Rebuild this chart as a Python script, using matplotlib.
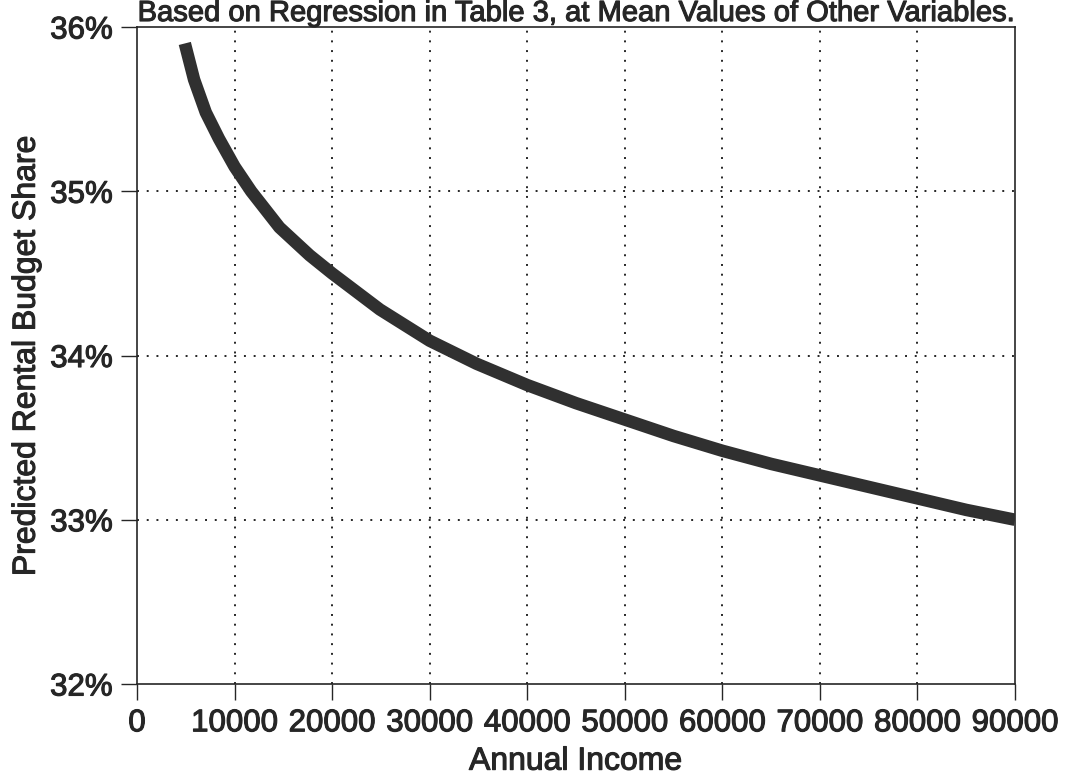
import numpy as np
import matplotlib.pyplot as plt
import matplotlib.patheffects as pe

plt.rcParams['font.family'] = ['Liberation Sans', 'DejaVu Sans']

# values (annual income, predicted share in %)
income = np.array([4900, 5850, 7050, 8400, 10000, 11700, 14600, 17700,
                   20000, 24900, 30000, 34800, 40000, 45000, 50000, 55000,
                   60000, 65000, 70000, 75000, 80000, 85000, 90000])
share = np.array([35.90, 35.68, 35.48, 35.32, 35.15, 35.00, 34.78, 34.61,
                  34.50, 34.28, 34.09, 33.95, 33.82, 33.71, 33.61, 33.51,
                  33.42, 33.34, 33.27, 33.20, 33.13, 33.06, 33.00])

x_ticks = np.arange(0, 90001, 10000)
y_ticks = [32, 33, 34, 35, 36]
y_tick_labels = ['32%', '33%', '34%', '35%', '36%']

title = 'Based on Regression in Table 3, at Mean Values of Other Variables.'
x_label = 'Annual Income'
y_label = 'Predicted Rental Budget Share'

ink = '#262626'
heavy = [pe.withStroke(linewidth=0.8, foreground=ink)]

fig = plt.figure(figsize=(10.67, 7.81), dpi=100)
ax = fig.add_axes([0.1284, 0.1242, 0.8229, 0.8412])

ax.plot(income, share, color='#303030', linewidth=9.0,
        solid_capstyle='butt', solid_joinstyle='round', zorder=3)

ax.set_xlim(0, 90000)
ax.set_ylim(32, 36)
ax.set_xticks(x_ticks)
ax.set_xticklabels([str(v) for v in x_ticks])
ax.set_yticks(y_ticks)
ax.set_yticklabels(y_tick_labels)

# dotted grid only inside the box
for xv in x_ticks[1:-1]:
    ax.axvline(xv, color=ink, linestyle=(0, (1, 4)), linewidth=1.4, zorder=1)
for yv in y_ticks[1:-1]:
    ax.axhline(yv, color=ink, linestyle=(0, (1, 4)), linewidth=1.4, zorder=1)

for sp in ax.spines.values():
    sp.set_color(ink)
    sp.set_linewidth(1.2)

ax.tick_params(axis='both', direction='out', length=11.5, width=1.0,
               color=ink, labelcolor=ink, labelsize=22.5)
ax.tick_params(axis='x', pad=6)
ax.tick_params(axis='y', pad=6)
for lab in ax.get_xticklabels() + ax.get_yticklabels():
    lab.set_path_effects(heavy)

t = ax.set_title(title, fontsize=21, color=ink, pad=3.5)
xl = ax.set_xlabel(x_label, fontsize=23, color=ink, labelpad=6)
yl = ax.set_ylabel(y_label, fontsize=23, color=ink, labelpad=6)
for txt in (t, xl, yl):
    txt.set_path_effects(heavy)

fig.savefig('out.png', dpi=100, facecolor='white')
